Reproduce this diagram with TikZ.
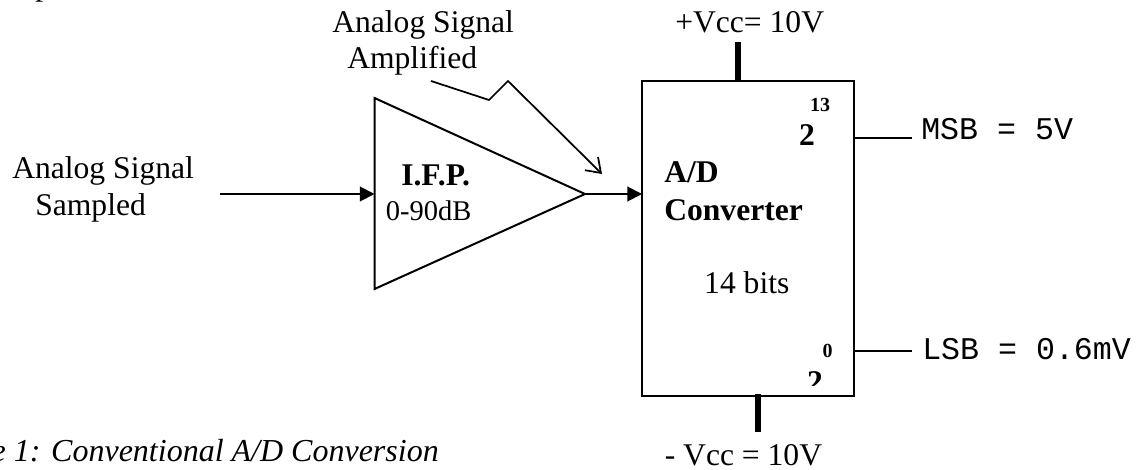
\documentclass[tikz,border=0pt]{standalone}
\usepackage{fontspec}
\setmainfont{Liberation Serif}
\setmonofont{Liberation Mono}
\usetikzlibrary{arrows.meta}
\tikzset{
  x=0.75pt,y=-0.75pt,
  lbl/.style={inner sep=0pt,font=\fontsize{23.7}{27}\selectfont,anchor=base west},
  lblc/.style={inner sep=0pt,font=\fontsize{23.7}{27}\selectfont,anchor=base},
  boldlbl/.style={inner sep=0pt,font=\bfseries\fontsize{23.7}{27}\selectfont,anchor=base west},
  sup/.style={inner sep=0pt,font=\bfseries\fontsize{15}{18}\selectfont,anchor=base},
  mono/.style={inner sep=0pt,font=\ttfamily\fontsize{23.7}{27}\selectfont,anchor=base west},
  wire/.style={line width=1.5pt,black},
  thinwire/.style={line width=1.3pt,black},
  power/.style={line width=4.5pt,black},
  solidarrow/.style={wire,-{Triangle[length=11pt,width=11pt]}}
}
\begin{document}
\begin{tikzpicture}
\useasboundingbox (0,0) rectangle (1141,470);
\fill[white] (0,0) rectangle (1141,470);
% clipped remains of the text line above
\node[lbl] (clipa) at (35,-4.4) {p};
\node[lbl] (clipb) at (90,-4.4) {,};
% free labels
\node[lbl] (insiga) at (12,179) {Analog Signal};
\node[lbl] (insigb) at (35,216) {Sampled};
\node[lbl] (ampa) at (332,33) {Analog Signal};
\node[lbl] (ampb) at (347,69) {Amplified};
\node[lbl] (vccp) at (675,33) {+Vcc= 10V};
\node[lbl] (vccm) at (664.5,465) {- Vcc = 10V};
% caption
\node[inner sep=0pt,font=\itshape\fontsize{24}{27}\selectfont,anchor=base east] (cap) at (439,461) {e 1: Conventional A/D Conversion};
% blocks
\coordinate (t1) at (374.5,98);
\coordinate (t2) at (374.5,289);
\coordinate (t3) at (585,194);
\draw[wire] (t1) -- (t2) -- (t3) -- cycle;
\coordinate (r1) at (642,81);
\coordinate (r2) at (853.6,396);
\draw[wire] (r1) rectangle (r2);
% signal
\coordinate (inS) at (220,194);
\coordinate (inE) at (374.5,194);
\coordinate (midE) at (642,194);
\draw[solidarrow] (inS) -- (inE);
\draw[solidarrow] (t3) -- (midE);
% callout
\coordinate (c1) at (431,81);
\coordinate (c2) at (489,100);
\coordinate (c3) at (508,81);
\coordinate (c4) at (602,174);
\draw[thinwire,-{Straight Barb[length=10pt,width=14pt]}] (c1) -- (c2) -- (c3) -- (c4);
% power
\coordinate (p1) at (738,42);
\coordinate (p2) at (738,81);
\coordinate (p3) at (757.6,394);
\coordinate (p4) at (757.6,432);
\draw[power] (p1) -- (p2);
\draw[power] (p3) -- (p4);
% outputs
\coordinate (m1) at (853.6,138);
\coordinate (m2) at (912,138);
\coordinate (l1) at (853.6,351);
\coordinate (l2) at (912,351);
\draw[thinwire] (m1) -- (m2);
\draw[thinwire] (l1) -- (l2);
\node[mono] (msb) at (921,140) {MSB = 5V};
\node[mono] (lsb) at (922,359) {LSB = 0.6mV};
% block text
\node[boldlbl] (ifp) at (401,186) {I.F.P.};
\node[inner sep=0pt,font=\fontsize{21.4}{25}\selectfont,anchor=base west] (gain) at (385.5,220) {0-90dB};
\node[boldlbl] (ad) at (664,183) {A/D};
\node[boldlbl] (conv) at (664,220) {Converter};
\node[lblc] (bits) at (746.8,293) {14 bits};
\node[sup] (e13) at (820,112) {13};
\node[inner sep=0pt,font=\bfseries\fontsize{23.7}{27}\selectfont,anchor=base] (b2) at (807,146) {2};
\node[sup] (e0) at (827.6,357) {0};
\begin{scope}
\clip (800,362) rectangle (830,385);
\node[inner sep=0pt,font=\bfseries\fontsize{23.7}{27}\selectfont,anchor=base] (b0) at (815,392) {2};
\end{scope}
\end{tikzpicture}
\end{document}
